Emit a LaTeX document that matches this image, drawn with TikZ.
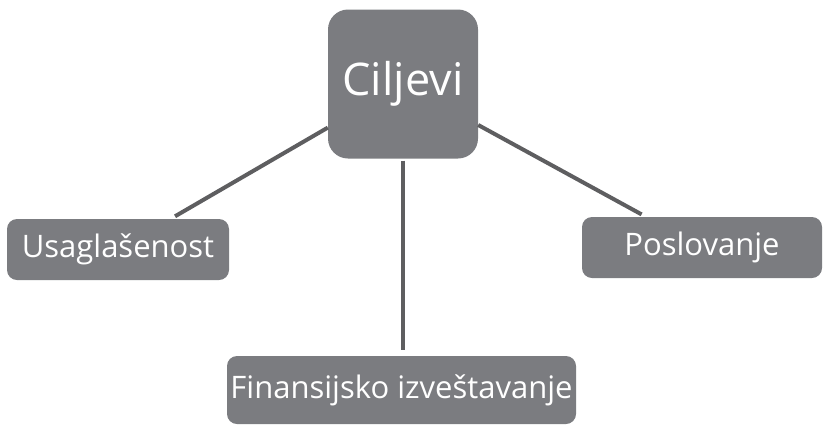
\documentclass[tikz,border=0pt]{standalone}
\usepackage{fontspec}
\setmainfont{Open Sans}
\usepackage{tikz}
\usetikzlibrary{positioning}
\definecolor{boxgray}{HTML}{7B7C80}
\definecolor{linegray}{HTML}{5E5E60}

\begin{document}
\begin{tikzpicture}[
    x=1pt, y=-1pt,
    box/.style={rectangle, fill=boxgray, rounded corners=10pt, text=white, inner sep=0pt, font=\fontsize{31}{36}\selectfont},
    mainbox/.style={box, rounded corners=20pt, minimum width=150pt, minimum height=149pt, font=\fontsize{45}{52}\selectfont},
    link/.style={draw=linegray, line width=4pt}
]
    \useasboundingbox (0,0) rectangle (830,424);

    \node[mainbox] (cilj) at (403,84) {Ciljevi};
    \node[box, minimum width=222pt, minimum height=61pt] (usag) at (118,249.5) {Usaglašenost};
    \node[box, minimum width=240pt, minimum height=61pt] (posl) at (702,247.5) {Poslovanje};
    \node[box, minimum width=349pt, minimum height=68pt] (fin) at (401.5,390) {Finansijsko izveštavanje};

    \draw[link, shorten >=5pt] (cilj) -- (usag);
    \draw[link, shorten >=6pt, shorten <=2pt] (cilj.south) -- (fin.north -| cilj.south);
    \draw[link, shorten >=5pt] (cilj) -- (posl);
\end{tikzpicture}
\end{document}
